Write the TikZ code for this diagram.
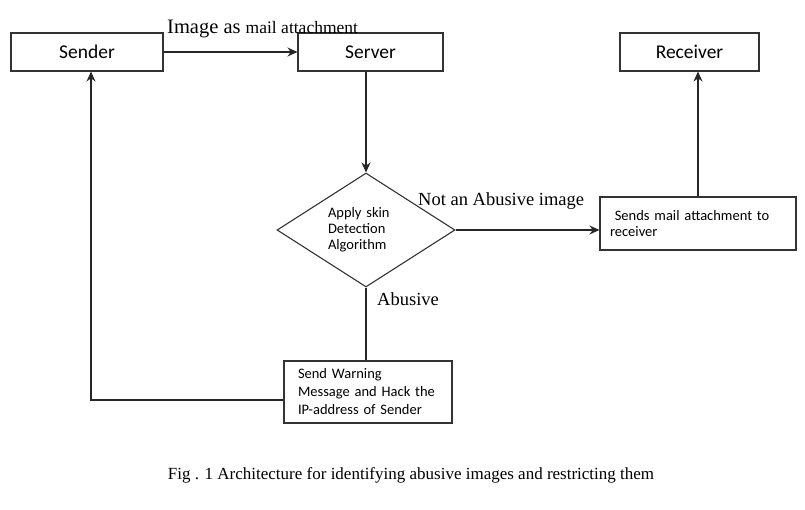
\documentclass[tikz,border=0pt]{standalone}
\usepackage{fontspec}
\setmainfont{Liberation Serif}
\newfontfamily\boxfont{Carlito}
\usetikzlibrary{arrows.meta, positioning, shapes.geometric}
\tikzset{
  box/.style      = {draw=black!80, line width=1.1pt, minimum height=38pt, inner sep=0pt,
                     font=\boxfont\fontsize{19.5}{22}\selectfont},
  notebox/.style  = {draw=black!80, line width=1.1pt, align=left, inner ysep=0pt,
                     font=\boxfont\fontsize{14.5}{16}\selectfont},
  decision/.style = {diamond, draw=black!80, line width=1.1pt, aspect=1.56, inner sep=0pt,
                     minimum width=178pt, minimum height=114pt, align=left, text width=76pt,
                     font=\boxfont\fontsize{14.5}{16}\selectfont},
  sig/.style      = {-{Stealth[length=10pt, width=9pt]}, line width=1.1pt, black!85},
  wire/.style     = {line width=1.1pt, black!85},
  lab/.style      = {font=\fontsize{18.5}{21}\selectfont, inner sep=0pt},
}

\begin{document}
\begin{tikzpicture}[x=1pt, y=-1pt]
  \useasboundingbox (0,0) rectangle (805,509);

  \node[box, minimum width=152pt] (sender) at (87,52) {Sender};
  \node[box, minimum width=145pt] (server) at (370.5,52) {Server};
  \node[box, minimum width=139pt] (receiver) at (689.5,52) {Receiver};

  \node[decision] (detect) at (366,230) {Apply skin\\Detection\\Algorithm};
  \node[notebox, text width=176pt, inner xsep=10pt, minimum height=53pt] (forward) at (698,223.5)
       {\ Sends mail attachment to\\receiver};
  \node[notebox, text width=140pt, inner xsep=14pt, minimum height=62pt,
        font=\boxfont\fontsize{14.5}{18}\selectfont] (warn) at (368,392)
       {Send Warning\\Message and Hack the\\IP-address of Sender};

  \node[lab, anchor=base west, font=\fontsize{20.5}{22}\selectfont] (lblimg) at (167,33)
       {Image as {\fontsize{17.5}{20}\selectfont mail attachment}};
  \node[lab, anchor=base west] (lblok) at (418,205) {Not an Abusive image};
  \node[lab, anchor=base west] (lblbad) at (377,305) {Abusive};

  \coordinate (bend) at (91,400);

  \draw[sig] (sender) -- (server);
  \draw[sig] (detect.north |- server.south) -- (detect.north);
  \draw[sig] (detect.east) -- (detect.east -| forward.west);
  \draw[sig] (forward.north) -- (forward.north |- receiver.south);
  \draw[wire] (detect.south) -- (detect.south |- warn.north);
  \draw[sig] ([yshift=-8pt]warn.west) -- (bend) -- (bend |- sender.south);

  \node[font=\fontsize{17}{20}\selectfont] (caption) at (411,475)
       {Fig . 1 Architecture for identifying abusive images and restricting them};
\end{tikzpicture}
\end{document}
